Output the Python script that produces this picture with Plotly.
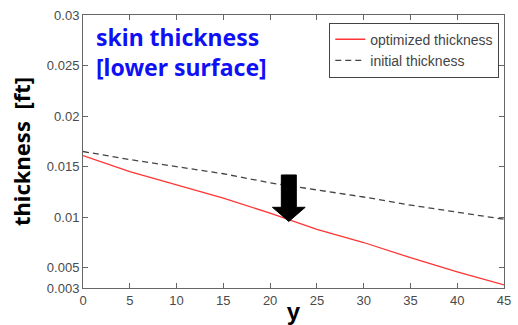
import plotly.graph_objects as go

# spanwise station y [ft] and skin thickness [ft]
span = [0, 5, 10, 15, 20, 25, 30, 35, 40, 45]
optimized = [0.0161, 0.0145, 0.0132, 0.0119, 0.0104, 0.0088, 0.0075, 0.0060, 0.0046, 0.0033]
initial = [0.0165, 0.0157, 0.0150, 0.0143, 0.0134, 0.0127, 0.0120, 0.0112, 0.0105, 0.0098]

x_ticks = [0, 5, 10, 15, 20, 25, 30, 35, 40, 45]
y_ticks = [0.003, 0.005, 0.01, 0.015, 0.02, 0.025, 0.03]
y_tick_text = ["0.003", "0.005", "0.01", "0.015", "0.02", "0.025", "0.03"]

fig = go.Figure()
fig.add_trace(go.Scatter(x=span, y=optimized, mode="lines", name="optimized thickness",
                         line=dict(color="#ff3535", width=1.3)))
fig.add_trace(go.Scatter(x=span, y=initial, mode="lines", name="initial thickness",
                         line=dict(color="#444444", width=1.3, dash="6px,4px")))

# downward arrow marking the thickness reduction
ax0, ay_top, ay_neck, ay_tip = 22.0, 0.01418, 0.01098, 0.00958
sw, hw = 0.8, 1.75
fig.add_shape(type="path", xref="x", yref="y",
              path=(f"M{ax0-sw},{ay_top} L{ax0+sw},{ay_top} L{ax0+sw},{ay_neck} "
                    f"L{ax0+hw},{ay_neck} L{ax0},{ay_tip} L{ax0-hw},{ay_neck} "
                    f"L{ax0-sw},{ay_neck} Z"),
              fillcolor="black", line=dict(color="black", width=1))

fig.add_annotation(x=0.027, y=0.985, xref="paper", yref="paper", xanchor="left", yanchor="top",
                   text="<b>skin thickness<br>[lower surface]</b>", showarrow=False, align="left",
                   font=dict(family="Noto Sans", size=23, color="#1010f5"))

axis_common = dict(showline=True, linecolor="#666666", linewidth=1, mirror="ticks",
                   ticks="inside", ticklen=5, tickcolor="#666666", showgrid=False, zeroline=False,
                   automargin=False,
                   tickfont=dict(family="Liberation Sans", size=13, color="#4a4a4a"))

fig.update_xaxes(range=[0, 45], tickvals=x_ticks, **axis_common,
                 title=dict(text="<b>y</b>", font=dict(family="Liberation Sans", size=24, color="black"),
                            standoff=0))
fig.update_yaxes(range=[0.003, 0.03], tickvals=y_ticks, ticktext=y_tick_text, **axis_common,
                 title=dict(text="<b>thickness&nbsp;&nbsp;[ft]</b>",
                            font=dict(family="Noto Sans", size=22, color="black"), standoff=10))

fig.update_layout(
    width=518, height=325,
    margin=dict(l=83, r=14, t=15, b=37),
    paper_bgcolor="white", plot_bgcolor="white",
    showlegend=True,
    legend=dict(x=0.585, y=0.972, xanchor="left", yanchor="top",
                bordercolor="#444444", borderwidth=1, bgcolor="white",
                font=dict(family="Liberation Sans", size=14, color="#444444"),
                tracegroupgap=0, itemwidth=30),
)

fig.write_html("out.html")
